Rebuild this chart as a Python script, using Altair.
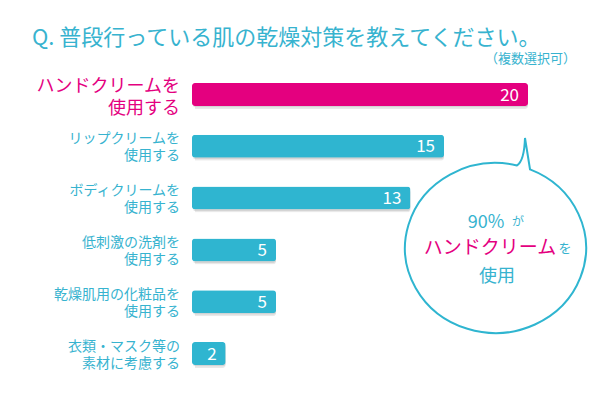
import altair as alt
import pandas as pd

# ---- data ----
labels = [
    "ハンドクリームを\n使用する",
    "リップクリームを\n使用する",
    "ボディクリームを\n使用する",
    "低刺激の洗剤を\n使用する",
    "乾燥肌用の化粧品を\n使用する",
    "衣類・マスク等の\n素材に考慮する",
]
values = [20, 15, 13, 5, 5, 2]
highlight = [True, False, False, False, False, False]

title_text = "Q. 普段行っている肌の乾燥対策を教えてください。"
subtitle_text = "（複数選択可）"

TEAL = "#2fb5d0"
TEXT_TEAL = "#37b3cf"
MAGENTA = "#e4007f"
FONT = "Noto Sans CJK JP"

df = pd.DataFrame({
    "label": labels,
    "value": values,
    "order": list(range(len(labels))),
    "hl": highlight,
})

xs = alt.Scale(domain=[0, 20], range=[184, 520], padding=0, nice=False, zero=True)
ys = alt.Scale(domain=[0, 5], range=[86.5, 345.5], padding=0, nice=False, zero=False)

X = alt.X("value:Q", scale=xs, axis=None)
Y = alt.Y("order:Q", scale=ys, axis=None)

base = alt.Chart(df)

shadow1 = base.mark_bar(orient="horizontal", height=23, cornerRadius=3,
                        color="#999999", opacity=0.22, xOffset=3, yOffset=3).encode(x=X, y=Y)
shadow2 = base.mark_bar(orient="horizontal", height=23, cornerRadius=3,
                        color="#999999", opacity=0.25, xOffset=1.5, yOffset=1.5).encode(x=X, y=Y)

bars = base.mark_bar(orient="horizontal", height=23, cornerRadius=3).encode(
    x=X, y=Y,
    color=alt.condition("datum.hl", alt.value(MAGENTA), alt.value(TEAL)),
)

vals = base.mark_text(align="right", baseline="middle", dx=-9, dy=1,
                      font=FONT, fontSize=17, color="white").encode(
    x=X, y=Y, text="value:Q")

lab_hl = base.transform_filter("datum.hl").mark_text(
    align="right", baseline="middle", lineBreak="\n", lineHeight=22, dy=-8,
    font=FONT, fontSize=18, color=MAGENTA).encode(
    x=alt.value(172), y=Y, text="label:N")

lab_rest = base.transform_filter("!datum.hl").mark_text(
    align="right", baseline="middle", lineBreak="\n", lineHeight=17, dy=-7,
    font=FONT, fontSize=14, color=TEXT_TEAL).encode(
    x=alt.value(172), y=Y, text="label:N")

# ---- titles ----
title = alt.Chart(pd.DataFrame({"t": [title_text]})).mark_text(
    align="left", baseline="middle", font=FONT, fontSize=22, color=TEXT_TEAL).encode(
    x=alt.value(24), y=alt.value(30), text="t:N")
sub = alt.Chart(pd.DataFrame({"t": [subtitle_text]})).mark_text(
    align="right", baseline="middle", font=FONT, fontSize=13, color=TEXT_TEAL).encode(
    x=alt.value(568), y=alt.value(50.5), text="t:N")

# ---- speech bubble ----
bubble_path = ("M 0.397 -0.903 A 1.04 0.977 0 1 1 0.247 -0.949 "
               "Q 0.33 -1.0 0.339 -1.264 L 0.397 -0.903 Z")
bubble = alt.Chart(pd.DataFrame({"k": [1]})).mark_point(
    shape=bubble_path, size=174 * 174, filled=True, fill="white",
    stroke=TEAL, strokeWidth=2, opacity=1).encode(
    x=alt.value(487.5), y=alt.value(240))

bubble_txt = pd.DataFrame({
    "t": ["90%", "が", "ハンドクリーム", "を", "使用"],
    "px": [478, 510, 482, 557, 489],
    "py": [215, 214, 240, 241, 269],
    "fs": [18, 12, 19, 13, 18],
    "c": [TEXT_TEAL, TEXT_TEAL, MAGENTA, TEXT_TEAL, TEXT_TEAL],
})
btxt = alt.Chart(bubble_txt).mark_text(align="center", baseline="middle", font=FONT).encode(
    x=alt.X("px:Q", scale=None, axis=None),
    y=alt.Y("py:Q", scale=None, axis=None),
    text="t:N",
    size=alt.Size("fs:Q", scale=None, legend=None),
    color=alt.Color("c:N", scale=None, legend=None),
)

chart = alt.layer(
    shadow1, shadow2, bars, vals, lab_hl, lab_rest, title, sub, bubble, btxt
).resolve_scale(x="independent", y="independent").properties(
    width=584, height=384, padding=0, autosize=alt.AutoSizeParams(type="none"),
    background="white",
).configure_view(stroke=None)

chart.save("out.html", embed_options={"renderer": "svg", "actions": False})
